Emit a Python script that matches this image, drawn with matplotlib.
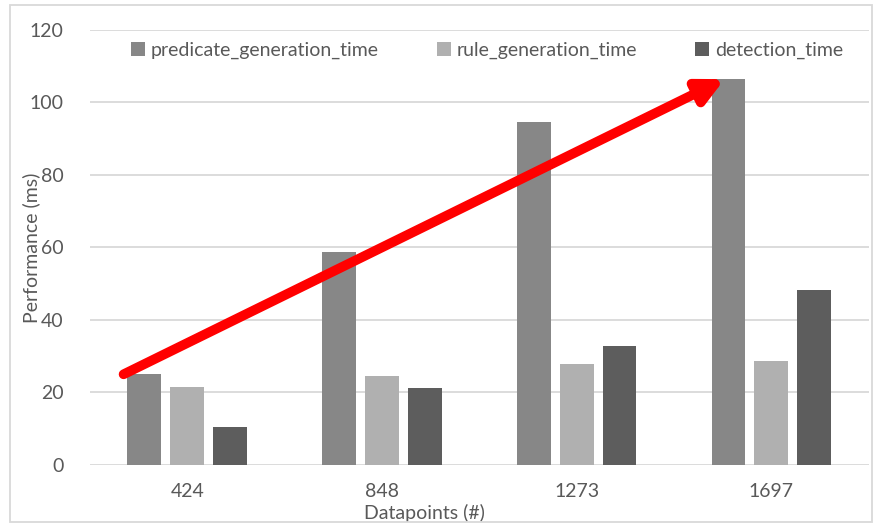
import matplotlib
matplotlib.use("Agg")
import matplotlib.pyplot as plt
import numpy as np
from matplotlib.patches import Rectangle

plt.rcParams['font.family'] = ['Lato', 'DejaVu Sans']

categories = ["424", "848", "1273", "1697"]
predicate_generation_time = [25.0, 58.8, 94.6, 106.4]
rule_generation_time = [21.6, 24.6, 27.9, 28.6]
detection_time = [10.6, 21.3, 32.7, 48.3]

series = [
    ("predicate_generation_time", predicate_generation_time, "#878787"),
    ("rule_generation_time", rule_generation_time, "#b0b0b0"),
    ("detection_time", detection_time, "#5d5d5d"),
]

text_color = "#595959"
grid_color = "#d9d9d9"

fig = plt.figure(figsize=(8.73, 5.23), dpi=100)
ax = fig.add_axes([0.103, 0.111, 0.892, 0.832])

x = np.arange(len(categories))
width = 0.174
offset = 0.22
for i, (name, vals, color) in enumerate(series):
    ax.bar(x + (i - 1) * offset, vals, width, color=color, label=name, zorder=3)

ax.set_xlim(-0.5, len(categories) - 0.5)
ax.set_ylim(0, 120)
ax.set_yticks(range(0, 121, 20))
ax.set_xticks(x)
ax.set_xticklabels(categories)
ax.yaxis.grid(True, color=grid_color, linewidth=1.3, zorder=0)
ax.set_axisbelow(True)
for s in ax.spines.values():
    s.set_visible(False)
ax.tick_params(axis='both', length=0, labelsize=14, colors=text_color)
ax.tick_params(axis='y', pad=19)
ax.tick_params(axis='x', pad=13)

ax.set_ylabel("Performance (ms)", fontsize=14, color=text_color)
ax.yaxis.set_label_coords(-0.064, 0.5)
ax.set_xlabel("Datapoints (#)", fontsize=14, color=text_color)
ax.xaxis.set_label_coords(0.43, -0.11)
ax.xaxis.label.set_va('center')

leg = ax.legend(loc='upper center', bbox_to_anchor=(0.51, 1.012), ncol=3,
                frameon=False, fontsize=14, handlelength=0.7, handleheight=0.7,
                handletextpad=0.3, columnspacing=3.0)
for t in leg.get_texts():
    t.set_color(text_color)

# Trend arrow along the predicate generation bars
x_start = x[0] - offset - width / 2 - 0.02
x_end = x[-1] - offset - 0.02
ax.annotate("", xy=(x_end, predicate_generation_time[-1]),
            xytext=(x_start, predicate_generation_time[0]),
            arrowprops=dict(arrowstyle="-|>,head_length=1.5,head_width=0.75",
                            color="#ff0000", lw=7, shrinkA=0, shrinkB=0),
            zorder=5)

# Chart border
fig.patches.append(Rectangle((0.011, 0.002), 0.988, 0.988, transform=fig.transFigure,
                             fill=False, edgecolor="#d9d9d9", linewidth=1.3))

fig.savefig("out.png", dpi=100)
